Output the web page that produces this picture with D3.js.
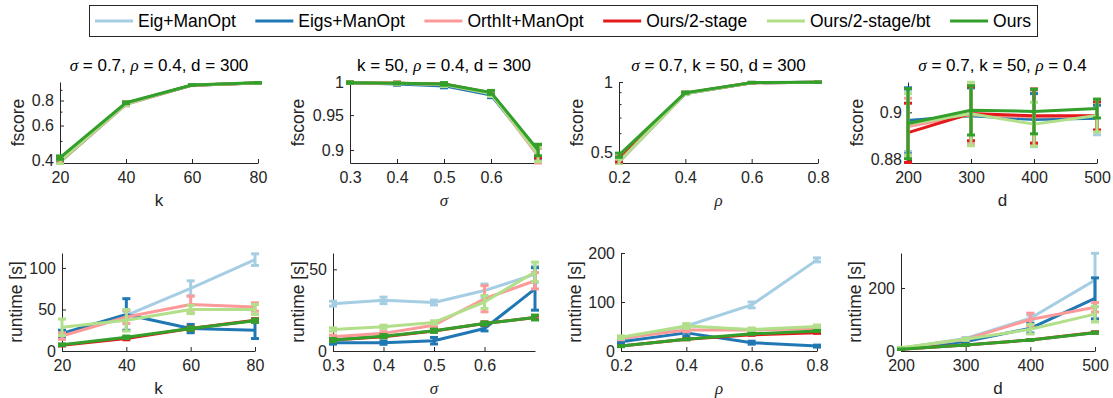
<!DOCTYPE html>
<html>
<head>
<meta charset="utf-8">
<script src="https://cdn.jsdelivr.net/npm/d3@7"></script>
<style>
body { margin: 0; background: #fff; }
svg { display: block; font-family: "Liberation Sans", Arial, sans-serif; }
</style>
</head>
<body>
<svg id="fig"></svg>
<script>
var width = 1113;
var height = 398;

var methods = ["Eig+ManOpt", "Eigs+ManOpt", "OrthIt+ManOpt", "Ours/2-stage", "Ours/2-stage/bt", "Ours"];
var colors = ["#a6cee3", "#1f78b4", "#fb9a99", "#e31a1c", "#b2df8a", "#33a02c"];

var kVals = [20, 40, 60, 80];
var sigmaVals = [0.3, 0.4, 0.5, 0.6, 0.7];
var rhoVals = [0.2, 0.4, 0.6, 0.8];
var dVals = [200, 300, 400, 500];

var kTicks = [20, 40, 60, 80];
var sigmaTicks = [0.3, 0.4, 0.5, 0.6];
var rhoTicks = [0.2, 0.4, 0.6, 0.8];
var dTicks = [200, 300, 400, 500];

var titles = ["σ = 0.7,  ρ = 0.4, d = 300", "k = 50,  ρ = 0.4, d = 300",
              "σ = 0.7, k = 50, d = 300", "σ = 0.7, k = 50,  ρ = 0.4"];

// fscore, one row per method
var fscoreK = [
    [0.395, 0.765, 0.955, 0.980],
    [0.395, 0.770, 0.955, 0.980],
    [0.395, 0.765, 0.955, 0.980],
    [0.400, 0.775, 0.955, 0.980],
    [0.397, 0.770, 0.955, 0.980],
    [0.415, 0.780, 0.956, 0.981]
];
var fscoreKErr = [
    [0.010, 0.012, 0.004, 0.003],
    [0.010, 0.012, 0.004, 0.003],
    [0.010, 0.012, 0.004, 0.003],
    [0.010, 0.010, 0.004, 0.003],
    [0.010, 0.012, 0.004, 0.003],
    [0.008, 0.008, 0.003, 0.002]
];
var fscoreSigma = [
    [0.999, 0.998, 0.996, 0.982, 0.893],
    [0.999, 0.997, 0.994, 0.980, 0.895],
    [0.999, 0.998, 0.996, 0.983, 0.892],
    [0.999, 0.998, 0.997, 0.983, 0.898],
    [0.999, 0.998, 0.996, 0.982, 0.894],
    [0.999, 0.998, 0.997, 0.984, 0.900]
];
var fscoreSigmaErr = [
    [0.001, 0.002, 0.003, 0.004, 0.010],
    [0.001, 0.002, 0.003, 0.004, 0.010],
    [0.001, 0.002, 0.003, 0.004, 0.010],
    [0.001, 0.002, 0.002, 0.003, 0.009],
    [0.001, 0.002, 0.003, 0.004, 0.010],
    [0.001, 0.001, 0.002, 0.003, 0.008]
];
var fscoreRho = [
    [0.452, 0.890, 0.992, 0.998],
    [0.458, 0.893, 0.993, 0.998],
    [0.455, 0.892, 0.992, 0.998],
    [0.465, 0.896, 0.993, 0.998],
    [0.455, 0.892, 0.993, 0.998],
    [0.485, 0.900, 0.994, 0.998]
];
var fscoreRhoErr = [
    [0.015, 0.008, 0.003, 0.001],
    [0.015, 0.008, 0.003, 0.001],
    [0.015, 0.008, 0.003, 0.001],
    [0.012, 0.008, 0.003, 0.001],
    [0.015, 0.008, 0.003, 0.001],
    [0.010, 0.006, 0.002, 0.001]
];
var fscoreD = [
    [0.8965, 0.8985, 0.8975, 0.8975],
    [0.8965, 0.8985, 0.8970, 0.8975],
    [0.8940, 0.8990, 0.8980, 0.8985],
    [0.8914, 0.8995, 0.8985, 0.8985],
    [0.8950, 0.8994, 0.8950, 0.8987],
    [0.8953, 0.9009, 0.9004, 0.9016]
];
var fscoreDErr = [
    [0.0130, 0.0120, 0.0120, 0.0070],
    [0.0140, 0.0120, 0.0110, 0.0055],
    [0.0120, 0.0125, 0.0115, 0.0060],
    [0.0125, 0.0115, 0.0115, 0.0060],
    [0.0130, 0.0135, 0.0093, 0.0070],
    [0.0148, 0.0105, 0.0095, 0.0040]
];

// runtime [s], one row per method
var runtimeK = [
    [19, 43, 75.5, 110],
    [21, 44, 27, 25],
    [18, 41, 56, 53],
    [7, 15, 27, 37],
    [28.5, 37, 50, 50],
    [7.5, 16.5, 27, 36.5]
];
var runtimeKErr = [
    [3, 5, 9, 7],
    [4, 19, 5, 10],
    [4, 8, 10, 5],
    [1, 1.5, 2, 2],
    [10, 13, 5, 6],
    [1, 1.5, 2, 2]
];
var runtimeSigma = [
    [29, 31, 29.7, 37, 47],
    [5, 5.1, 6.3, 13.8, 38],
    [8.7, 10.8, 15.8, 32, 43],
    [6.7, 8.7, 12.2, 16.8, 20.5],
    [13.2, 14.8, 17.5, 30, 48.4],
    [6.7, 9.1, 12.4, 16.8, 20.5]
];
var runtimeSigmaErr = [
    [1.5, 2, 1.5, 4, 5],
    [0.8, 1, 2, 1.5, 13],
    [1, 1, 1, 8, 5],
    [0.5, 0.5, 0.5, 1, 1],
    [1, 1, 1, 4, 6],
    [1, 1, 1, 1, 1.5]
];
var runtimeRho = [
    [24, 51, 94, 186],
    [19, 37, 17, 10],
    [26, 43, 43, 46],
    [10, 24, 33, 37],
    [28, 51, 44, 50],
    [10, 24, 35, 41]
];
var runtimeRhoErr = [
    [2, 3, 6, 4],
    [2, 7, 3, 2],
    [3, 4, 3, 3],
    [1, 1, 1, 1],
    [3, 5, 3, 3],
    [1, 1, 1, 1]
];
var runtimeD = [
    [8.5, 40, 104, 225],
    [7, 30, 72, 167],
    [8.5, 37, 100, 139],
    [5.5, 19, 35, 59],
    [10.6, 37, 69, 117],
    [5.5, 19, 35, 58]
];
var runtimeDErr = [
    [1, 3, 10, 85],
    [1, 3, 15, 65],
    [1, 3, 20, 15],
    [0.5, 1, 1, 2],
    [1, 3, 15, 25],
    [0.5, 1, 1, 2]
];

var axisColor = "#262626";
var fmt = d3.format("~g");

var panels = [
    {xs: kVals, xt: kTicks, xl: "k", ys: fscoreK, es: fscoreKErr, log: true, dom: [0.39, 0.99], yt: [0.4, 0.6, 0.8], minor: [0.5, 0.7, 0.9],
     yl: "fscore", title: titles[0], left: 60, right: 258, top: 82, bottom: 163, ylx: 18},
    {xs: sigmaVals, xt: sigmaTicks, xl: "σ", ys: fscoreSigma, es: fscoreSigmaErr, log: true, dom: [0.882, 1.0], yt: [0.9, 0.95, 1], minor: [],
     yl: "fscore", title: titles[1], left: 350, right: 538, top: 82, bottom: 163, ylx: 298},
    {xs: rhoVals, xt: rhoTicks, xl: "ρ", ys: fscoreRho, es: fscoreRhoErr, log: true, dom: [0.449, 1.0], yt: [0.5, 1], minor: [0.6, 0.7, 0.8, 0.9],
     yl: "fscore", title: titles[2], left: 619, right: 818, top: 82, bottom: 163, ylx: 577},
    {xs: dVals, xt: dTicks, xl: "d", ys: fscoreD, es: fscoreDErr, log: true, dom: [0.8787, 0.913], yt: [0.88, 0.9], minor: [],
     yl: "fscore", title: titles[3], left: 908, right: 1097, top: 82, bottom: 163, ylx: 857},
    {xs: kVals, xt: kTicks, xl: "k", ys: runtimeK, es: runtimeKErr, log: false, dom: [0, 118], yt: [0, 50, 100], minor: [],
     yl: "runtime [s]", title: null, left: 62, right: 255, top: 253, bottom: 351, ylx: 16},
    {xs: sigmaVals, xt: sigmaTicks, xl: "σ", ys: runtimeSigma, es: runtimeSigmaErr, log: false, dom: [0, 60], yt: [0, 50], minor: [],
     yl: "runtime [s]", title: null, left: 333, right: 535, top: 253, bottom: 351, ylx: 298},
    {xs: rhoVals, xt: rhoTicks, xl: "ρ", ys: runtimeRho, es: runtimeRhoErr, log: false, dom: [0, 200], yt: [0, 100, 200], minor: [],
     yl: "runtime [s]", title: null, left: 621, right: 817, top: 253, bottom: 351, ylx: 575},
    {xs: dVals, xt: dTicks, xl: "d", ys: runtimeD, es: runtimeDErr, log: false, dom: [0, 311], yt: [0, 200], minor: [],
     yl: "runtime [s]", title: null, left: 901, right: 1095, top: 253, bottom: 351, ylx: 855}
];

var svg = d3.select("svg#fig")
    .attr("width", width)
    .attr("height", height);

var isGreek = function(s) { return s == "σ" || s == "ρ"; };

// writes text with the greek letters in italic serif, as the TeX interpreter does
var addRich = function(sel, str) {
    str.split(/([σρ])/).forEach(function(part) {
        if (!part) return;
        var t = sel.append("tspan").text(part);
        if (isGreek(part)) {
            t.attr("font-family", "'Liberation Serif', 'DejaVu Serif', serif")
                .attr("font-style", "italic");
        }
    });
};

var drawPanel = function(p, pi) {
    var g = svg.append("g");
    var x = d3.scaleLinear()
        .domain([p.xs[0], p.xs[p.xs.length - 1]])
        .range([p.left, p.right]);
    var y = (p.log ? d3.scaleLog() : d3.scaleLinear())
        .domain(p.dom)
        .range([p.bottom, p.top]);

    var clipId = "clip" + pi;
    svg.append("clipPath").attr("id", clipId)
        .append("rect")
        .attr("x", p.left - 8)
        .attr("y", p.top - 2)
        .attr("width", p.right - p.left + 16)
        .attr("height", p.bottom - p.top + 4);

    // axes
    var xAxis = g.append("g")
        .attr("transform", "translate(0," + p.bottom + ")")
        .call(d3.axisBottom(x).tickValues(p.xt).tickFormat(fmt)
              .tickSizeInner(-4).tickSizeOuter(0).tickPadding(9));
    var yAxis = g.append("g")
        .attr("transform", "translate(" + p.left + ",0)")
        .call(d3.axisLeft(y).tickValues(p.yt).tickFormat(fmt)
              .tickSizeInner(-4).tickSizeOuter(0).tickPadding(6));
    [xAxis, yAxis].forEach(function(a) {
        a.attr("color", axisColor);
        a.selectAll("text").attr("font-size", 16).attr("font-family", "'Liberation Sans', Arial, sans-serif").attr("fill", axisColor);
        a.select(".domain").attr("stroke-width", 1);
    });
    p.minor.forEach(function(m) {
        yAxis.append("line")
            .attr("x1", 0).attr("x2", 2.5)
            .attr("y1", y(m)).attr("y2", y(m))
            .attr("stroke", axisColor);
    });

    // series
    var plot = g.append("g").attr("clip-path", "url(#" + clipId + ")");
    var line = d3.line()
        .x(function(d) { return x(d[0]); })
        .y(function(d) { return y(d[1]); });
    p.ys.forEach(function(vals, si) {
        var pts = vals.map(function(v, j) { return [p.xs[j], v, p.es[si][j]]; });
        var sg = plot.append("g")
            .attr("stroke", colors[si])
            .attr("fill", "none")
            .attr("stroke-width", 3);
        sg.append("path").datum(pts).attr("d", line).attr("stroke-linejoin", "round");
        pts.forEach(function(d) {
            var cx = x(d[0]);
            var lo = y(d[1] - d[2]);
            var hi = y(d[1] + d[2]);
            sg.append("line").attr("x1", cx).attr("x2", cx).attr("y1", lo).attr("y2", hi);
            sg.append("line").attr("x1", cx - 4).attr("x2", cx + 4).attr("y1", lo).attr("y2", lo);
            sg.append("line").attr("x1", cx - 4).attr("x2", cx + 4).attr("y1", hi).attr("y2", hi);
        });
    });

    // labels
    var xlab = g.append("text")
        .attr("x", (p.left + p.right) / 2)
        .attr("y", p.bottom + 43)
        .attr("text-anchor", "middle")
        .attr("font-size", 17)
        .attr("fill", axisColor);
    addRich(xlab, p.xl);

    g.append("text")
        .attr("transform", "translate(" + p.ylx + "," + ((p.top + p.bottom) / 2) + ") rotate(-90)")
        .attr("dy", "0.35em")
        .attr("text-anchor", "middle")
        .attr("font-size", 17.5)
        .attr("fill", axisColor)
        .text(p.yl);

    if (p.title) {
        var t = g.append("text")
            .attr("x", (p.left + p.right) / 2)
            .attr("y", 71)
            .attr("text-anchor", "middle")
            .attr("font-size", 17)
            .attr("fill", "#000");
        addRich(t, p.title);
    }
};

panels.forEach(drawPanel);

// legend across the top
var legend = svg.append("g");
legend.append("rect")
    .attr("x", 89.5).attr("y", 5.5)
    .attr("width", 948).attr("height", 31)
    .attr("fill", "#fff")
    .attr("stroke", axisColor);
var entries = methods.map(function(m) {
    var eg = legend.append("g");
    var t = eg.append("text")
        .attr("font-size", 17.5)
        .attr("y", 21)
        .attr("dy", "0.35em")
        .attr("fill", "#000")
        .text(m);
    return {g: eg, t: t, w: t.node().getComputedTextLength()};
});
var lineLen = 38, lineGap = 5;
var startX = 95, endX = 1031;
var totalW = d3.sum(entries, function(e) { return e.w; }) + entries.length * (lineLen + lineGap);
var gap = (endX - startX - totalW) / (entries.length - 1);
var cx = startX;
entries.forEach(function(e, i) {
    e.g.append("line")
        .attr("x1", cx).attr("x2", cx + lineLen)
        .attr("y1", 21).attr("y2", 21)
        .attr("stroke", colors[i])
        .attr("stroke-width", 3);
    e.t.attr("x", cx + lineLen + lineGap);
    cx += lineLen + lineGap + e.w + gap;
});
</script>
</body>
</html>
